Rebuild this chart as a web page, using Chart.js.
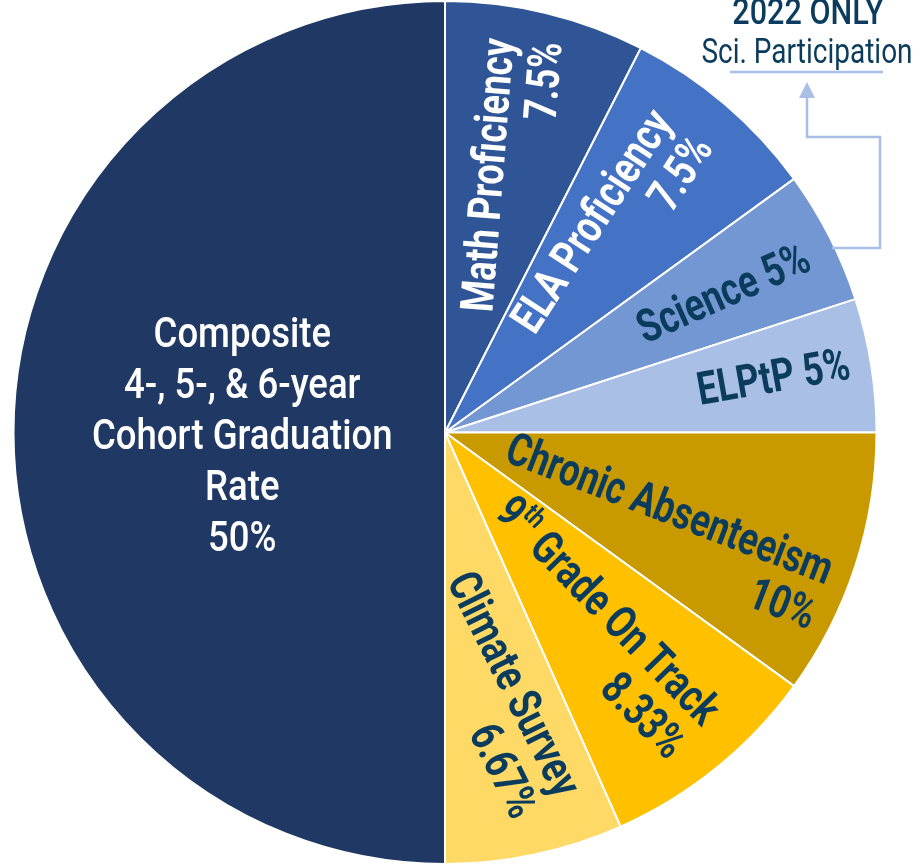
<!DOCTYPE html>
<html>
<head>
<meta charset="utf-8">
<script src="https://cdn.jsdelivr.net/npm/chart.js@4.4.1/dist/chart.umd.min.js"></script>
<style>
  html, body { margin: 0; padding: 0; background: #fff; }
  #wrap { width: 922px; height: 865px; position: relative; }
</style>
</head>
<body>
<div id="wrap"><canvas id="myChart"></canvas></div>
<script>
// slices, clockwise from 12 o'clock
var categories = ["Math Proficiency", "ELA Proficiency", "Science", "ELPtP", "Chronic Absenteeism",
  "9th Grade On Track", "Climate Survey", "Composite 4-, 5-, & 6-year Cohort Graduation Rate"];
var weights = [7.5, 7.5, 5, 5, 10, 8.33, 6.67, 50];
var weightLabels = ["7.5%", "7.5%", "5%", "5%", "10%", "8.33%", "6.67%", "50%"];
// text drawn inside each slice ("^" marks a superscript)
var labelLines = [
  ["Math Proficiency", "7.5%"],
  ["ELA Proficiency", "7.5%"],
  ["Science 5%"],
  ["ELPtP 5%"],
  ["Chronic Absenteeism", "10%"],
  ["9^th Grade On Track", "8.33%"],
  ["Climate Survey", "6.67%"],
  ["Composite", "4-, 5-, & 6-year", "Cohort Graduation", "Rate", "50%"]
];
var noteLines = ["2022 ONLY", "Sci. Participation"];

var sliceColors = ["#2F5597", "#4472C4", "#7397D2", "#A9BFE5", "#C99A00", "#FFC000", "#FFD966", "#203864"];
var NAVY = "#0B3C5D";

// where each label sits: fraction along the slice, fraction of radius, rotation (deg)
var labelLayout = [
  { at: 0.38, r: 0.606, rot: -85.5, color: "#fff", weight: "bold" },
  { at: 0.315, r: 0.597, rot: -57, color: "#fff", weight: "bold" },
  { at: 0.556, r: 0.721, rot: -24, color: NAVY, weight: "bold" },
  { at: 0.5, r: 0.772, rot: -10, color: NAVY, weight: "bold" },
  { at: 0.544, r: 0.55, rot: 21, color: NAVY, weight: "bold" },
  { at: 0.41, r: 0.56, rot: 45.7, color: NAVY, weight: "bold" },
  { at: 0.39, r: 0.606, rot: 63.5, color: NAVY, weight: "bold" },
  { at: 0.49, r: 0.47, rot: 0, color: "#fff", weight: "500", center: true }
];

function fontOf(size, weight) {
  return weight + " " + size + "px Roboto";
}

function richWidth(ctx, text, size, weight) {
  var w = 0;
  text.split(/(\^\w+)/).forEach(function (seg) {
    if (!seg) return;
    if (seg[0] === "^") { ctx.font = fontOf(size * 0.6, weight); w += ctx.measureText(seg.slice(1)).width; }
    else { ctx.font = fontOf(size, weight); w += ctx.measureText(seg).width; }
  });
  return w;
}

function drawRich(ctx, text, x, y, size, weight) {
  // x is the left end
  ctx.textAlign = "left";
  text.split(/(\^\w+)/).forEach(function (seg) {
    if (!seg) return;
    if (seg[0] === "^") {
      ctx.font = fontOf(size * 0.6, weight);
      ctx.fillText(seg.slice(1), x, y - size * 0.32);
      x += ctx.measureText(seg.slice(1)).width;
    } else {
      ctx.font = fontOf(size, weight);
      ctx.fillText(seg, x, y);
      x += ctx.measureText(seg).width;
    }
  });
}

const sliceLabels = {
  id: "sliceLabels",
  afterDatasetsDraw(chart) {
    const ctx = chart.ctx;
    const arcs = chart.getDatasetMeta(0).data;
    arcs.forEach(function (arc, i) {
      const lay = labelLayout[i];
      const p = arc.getProps(["x", "y", "startAngle", "endAngle", "outerRadius"], true);
      const a = p.startAngle + lay.at * (p.endAngle - p.startAngle);
      const r = lay.r * p.outerRadius;
      const lines = labelLines[i];
      const size = lay.center ? 42 : 46;
      const squeeze = lay.center ? 0.87 : 0.78;
      const lh = lay.center ? 51 : 48;
      ctx.save();
      ctx.translate(p.x + Math.cos(a) * r, p.y + Math.sin(a) * r);
      ctx.rotate(lay.rot * Math.PI / 180);
      ctx.scale(squeeze, 1);
      ctx.fillStyle = lay.color;
      ctx.textBaseline = "middle";
      const w0 = richWidth(ctx, lines[0], size, lay.weight);
      lines.forEach(function (line, k) {
        const w = richWidth(ctx, line, size, lay.weight);
        if (lay.center) {
          drawRich(ctx, line, -w / 2, (k - (lines.length - 1) / 2) * lh, size, lay.weight);
        } else if (k === 0) {
          drawRich(ctx, line, -w / 2, 0, size, lay.weight);
        } else {
          // later lines are right-aligned to the end of the first one
          drawRich(ctx, line, w0 / 2 - w, k * lh, size, lay.weight);
        }
      });
      ctx.restore();
    });
  }
};

// "2022 ONLY / Sci. Participation" note with its bent arrow
const sciNote = {
  id: "sciNote",
  afterDraw(chart) {
    const ctx = chart.ctx;
    ctx.save();
    ctx.fillStyle = NAVY;
    ctx.textAlign = "center";
    ctx.textBaseline = "alphabetic";
    ctx.save();
    ctx.translate(808, 24);
    ctx.scale(0.85, 1);
    ctx.font = "500 36px Roboto";
    ctx.fillText(noteLines[0], 0, 0);
    ctx.restore();
    ctx.save();
    ctx.translate(807, 63);
    ctx.scale(0.8, 1);
    ctx.font = "35px Roboto";
    ctx.fillText(noteLines[1], 0, 0);
    ctx.restore();

    ctx.strokeStyle = "#A9BFE5";
    ctx.fillStyle = "#A9BFE5";
    ctx.lineWidth = 2.5;
    ctx.beginPath();
    ctx.moveTo(730, 72);
    ctx.lineTo(883, 72);
    ctx.stroke();
    ctx.beginPath();
    ctx.moveTo(807, 96);
    ctx.lineTo(807, 137);
    ctx.lineTo(880, 137);
    ctx.lineTo(880, 248);
    ctx.lineTo(832, 248);
    ctx.stroke();
    ctx.beginPath();
    ctx.moveTo(807, 82);
    ctx.lineTo(799, 98);
    ctx.lineTo(815, 98);
    ctx.closePath();
    ctx.fill();
    ctx.restore();
  }
};

const ctx = document.getElementById("myChart");
const myChart = new Chart(ctx, {
  type: "pie",
  data: {
    labels: categories,
    datasets: [
      {
        data: weights,
        backgroundColor: sliceColors,
        borderColor: "#ffffff",
        borderWidth: 2,
        hoverOffset: 0,
      },
    ],
  },
  options: {
    responsive: true,
    maintainAspectRatio: false,
    animation: false,
    events: [],
    layout: { padding: { left: 12, right: 44, top: 0, bottom: 0 } },
    plugins: {
      legend: { display: false },
      tooltip: { enabled: false },
    },
  },
  plugins: [sliceLabels, sciNote],
});
</script>
</body>
</html>
